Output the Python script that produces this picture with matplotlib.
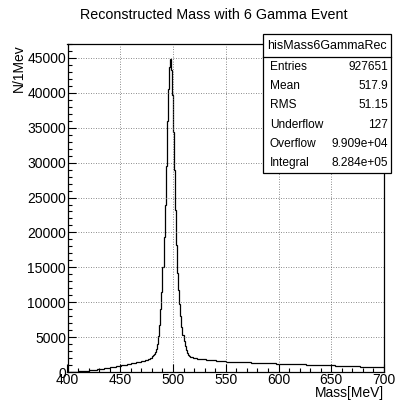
import numpy as np
import matplotlib
matplotlib.use("Agg")
import matplotlib.pyplot as plt
from matplotlib.patches import Rectangle
from matplotlib.ticker import MultipleLocator

plt.rcParams['font.family'] = ['Liberation Sans', 'DejaVu Sans']

# Reconstructed 6-gamma invariant mass, 1 MeV bins from 400 to 700 MeV
bin_low = 400
bin_width = 1

counts_400_479 = [
    0, 0, 5, 10, 20, 30, 40, 50, 60, 70,
    80, 90, 100, 110, 120, 135, 150, 165, 180, 200,
    215, 230, 250, 265, 285, 300, 320, 340, 360, 380,
    400, 425, 450, 475, 500, 525, 550, 575, 600, 625,
    650, 675, 700, 725, 750, 775, 800, 830, 860, 890,
    920, 950, 980, 1010, 1040, 1070, 1100, 1130, 1160, 1190,
    1220, 1250, 1280, 1310, 1340, 1370, 1400, 1430, 1460, 1500,
    1540, 1580, 1620, 1660, 1700, 1750, 1800, 1860, 1940, 2050,
]

counts_480_520 = [
    2250, 2400, 2600, 2900, 3300, 4000, 5100, 6800, 9000, 11500,
    15000, 19300, 24000, 29500, 35900, 40600, 43700, 44800, 43300, 39700,
    34400, 28900, 23200, 18200, 14200, 11800, 9800, 8000, 6500, 5300,
    4400, 3700, 3100, 2700, 2450, 2300, 2200, 2150, 2100, 2060,
    2020,
]

counts_521_699 = [
    1980, 1950, 1920, 1900, 1880, 1860, 1840, 1820, 1810, 1800,
    1785, 1770, 1755, 1740, 1725, 1710, 1695, 1680, 1665, 1650,
    1635, 1620, 1605, 1590, 1575, 1560, 1545, 1530, 1515, 1500,
    1494, 1488, 1482, 1476, 1470, 1464, 1458, 1452, 1446, 1440,
    1434, 1428, 1422, 1416, 1410, 1404, 1398, 1392, 1386, 1380,
    1374, 1368, 1362, 1356, 1350, 1344, 1338, 1332, 1326, 1320,
    1314, 1308, 1302, 1296, 1290, 1284, 1278, 1272, 1266, 1260,
    1254, 1248, 1242, 1236, 1230, 1224, 1218, 1212, 1206, 1200,
    1195, 1190, 1185, 1180, 1175, 1170, 1165, 1160, 1155, 1150,
    1145, 1140, 1135, 1130, 1125, 1120, 1115, 1110, 1105, 1100,
    1095, 1090, 1085, 1080, 1075, 1070, 1065, 1060, 1055, 1050,
    1045, 1040, 1035, 1030, 1025, 1020, 1015, 1010, 1005, 1000,
    995, 990, 985, 980, 975, 970, 965, 960, 955, 950,
    944, 938, 932, 926, 920, 914, 908, 902, 896, 890,
    884, 878, 872, 866, 860, 854, 848, 842, 836, 830,
    824, 818, 812, 806, 800, 794, 788, 782, 776, 770,
    764, 758, 752, 746, 740, 734, 728, 722, 716, 710,
    705, 700, 695, 690, 685, 680, 675, 670, 665,
]

stats_title = "hisMass6GammaRec"
stats_labels = ["Entries", "Mean", "RMS", "Underflow", "Overflow", "Integral"]
stats_values = ["927651", "517.9", "51.15", "127", "9.909e+04", "8.284e+05"]

counts = np.array(counts_400_479 + counts_480_520 + counts_521_699, dtype=float)
edges = bin_low + bin_width * np.arange(len(counts) + 1)

W, H = 395, 401
fig = plt.figure(figsize=(W / 100, H / 100), dpi=100)

def fx(px):
    return px / W

def fy(py):
    return 1 - py / H

left, right, top, bottom = 67.5, 384.0, 44.0, 372.0
ax = fig.add_axes([fx(left), fy(bottom), fx(right - left), (bottom - top) / H])

ax.stairs(counts, edges, color='black', linewidth=0.9, baseline=None)

ax.set_xlim(400, 700)
ax.set_ylim(0, 47000)
ax.xaxis.set_major_locator(MultipleLocator(50))
ax.xaxis.set_minor_locator(MultipleLocator(10))
ax.yaxis.set_major_locator(MultipleLocator(5000))
ax.yaxis.set_minor_locator(MultipleLocator(1000))
ax.tick_params(which='both', direction='in', top=False, right=False,
               labelsize=10, width=0.8, colors='black')
ax.tick_params(which='major', length=5.5)
ax.tick_params(which='minor', length=2.8)
ax.tick_params(axis='x', which='major', pad=0.5)
ax.tick_params(axis='y', which='major', pad=1.0)
ax.grid(True, which='major', color='#666666', linestyle=(0, (1, 2)), linewidth=0.6)
for s in ax.spines.values():
    s.set_linewidth(0.9)

fig.text(fx(214), fy(15), "Reconstructed Mass with 6 Gamma Event",
         ha='center', va='center', fontsize=10.3)
fig.text(fx(384), fy(393.5), "Mass[MeV]", ha='right', va='center', fontsize=10)
fig.text(fx(19), fy(44), "N/1Mev", ha='center', va='top', rotation=90, fontsize=10)

# statistics box
bx0, bx1, by0, by1, sep = 263, 391, 34, 173, 57
fig.patches.append(Rectangle((fx(bx0), fy(by1)), fx(bx1 - bx0), (by1 - by0) / H,
                             transform=fig.transFigure, facecolor='white',
                             edgecolor='black', linewidth=0.9, zorder=5))
fig.add_artist(plt.Line2D([fx(bx0), fx(bx1)], [fy(sep), fy(sep)],
                          transform=fig.transFigure, color='black', linewidth=0.9, zorder=6))
fig.text(fx((bx0 + bx1) / 2), fy((by0 + sep) / 2 + 0.5), stats_title,
         ha='center', va='center', fontsize=9, zorder=7)
row_h = (by1 - sep) / len(stats_labels)
for i, (lab, val) in enumerate(zip(stats_labels, stats_values)):
    yc = sep + row_h * (i + 0.5)
    fig.text(fx(bx0 + 7), fy(yc), lab, ha='left', va='center', fontsize=8.6, zorder=7)
    fig.text(fx(bx1 - 3), fy(yc), val, ha='right', va='center', fontsize=8.6, zorder=7)

fig.savefig("out.png", dpi=100)
